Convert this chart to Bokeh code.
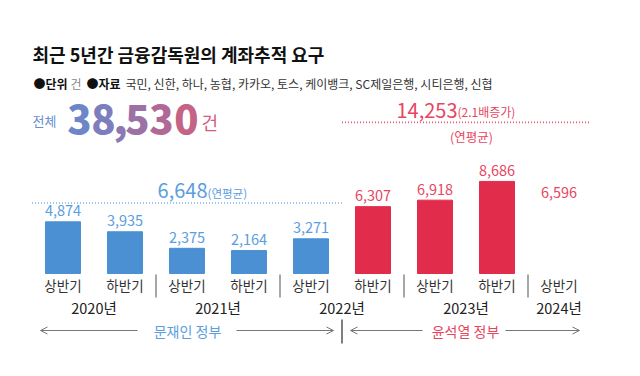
from bokeh.plotting import figure
from bokeh.models import ColumnDataSource, Arrow, OpenHead, Range1d
from bokeh.core.properties import value
from bokeh.embed import file_html
from bokeh.resources import INLINE

# ---------------- data ----------------
halves = ["상반기", "하반기", "상반기", "하반기", "상반기", "하반기", "상반기", "하반기", "상반기"]
half_years = ["2020년", "2020년", "2021년", "2021년", "2022년", "2022년", "2023년", "2023년", "2024년"]
values = [4874, 3935, 2375, 2164, 3271, 6307, 6918, 8686, 6596]
govs = ["문재인 정부"] * 5 + ["윤석열 정부"] * 4
gov_names = ["문재인 정부", "윤석열 정부"]
gov_avg = [6648, 14253]
gov_avg_note = ["(연평균)", "(2.1배증가)"]
total = "38,530"
title = "최근 5년간 금융감독원의 계좌추적 요구"
source_list = "국민, 신한, 하나, 농협, 카카오, 토스, 케이뱅크, SC제일은행, 시티은행, 신협"

# ---------------- geometry ----------------
W, H = 640, 376
PX_PER_CAT = 62.0
CAT0_PX = 62.5
BASE_PX = 273.0
PX_PER_UNIT = 0.0106
x0 = -CAT0_PX / PX_PER_CAT
x1 = x0 + W / PX_PER_CAT
y1 = BASE_PX / PX_PER_UNIT
y0 = y1 - H / PX_PER_UNIT


def X(px):
    return x0 + px / PX_PER_CAT


def Y(py):
    return y1 - py / PX_PER_UNIT


FONT = "Noto Sans CJK KR"
BLUE_BAR, BLUE_TXT, BLUE_DOT = "#4a90d2", "#5a9de0", "#7fb2e6"
RED_BAR, RED_TXT, RED_DOT = "#e12c4b", "#e8455f", "#ea5a72"
gov_bar = {gov_names[0]: BLUE_BAR, gov_names[1]: RED_BAR}
gov_txt = {gov_names[0]: BLUE_TXT, gov_names[1]: RED_TXT}

p = figure(width=W, height=H, output_backend="svg", toolbar_location=None,
           x_range=Range1d(x0, x1), y_range=Range1d(y0, y1),
           min_border=0, outline_line_color=None)
p.axis.visible = False
p.grid.visible = False
p.background_fill_color = "white"
p.border_fill_color = "white"

idx = list(range(len(values)))
n_bars = len(values) - 1  # the last half-year shows only its label in the picture
bar_src = ColumnDataSource(dict(x=idx[:n_bars], top=values[:n_bars],
                                color=[gov_bar[g] for g in govs[:n_bars]]))
p.vbar(x="x", top="top", width=0.565, bottom=0, color="color", source=bar_src)

lab_src = ColumnDataSource(dict(x=idx, y=values, t=[f"{v:,}" for v in values],
                                color=[gov_txt[g] for g in govs]))
p.text(x="x", y="y", text="t", text_color="color", source=lab_src,
       text_align="center", text_baseline="middle", y_offset=-11,
       text_font=value(FONT), text_font_size="14.5px")

# half-year labels
p.text(x=idx, y=[0] * len(idx), text=halves, text_align="center", text_baseline="middle",
       y_offset=11, text_font=value(FONT), text_font_size="13.5px", text_color="#333333")

# year labels centred over their half-years
years, year_x = [], []
for yname in dict.fromkeys(half_years):
    ids = [i for i, y in enumerate(half_years) if y == yname]
    years.append(yname)
    year_x.append(sum(ids) / len(ids))
p.text(x=year_x, y=[0] * len(years), text=years, text_align="center", text_baseline="middle",
       y_offset=34, text_font=value(FONT), text_font_size="14.5px", text_color="#222222")

# separators between years
sep_x = [i + 0.5 for i in range(len(half_years) - 1) if half_years[i] != half_years[i + 1]]
p.segment(x0=sep_x, y0=[Y(274)] * len(sep_x), x1=sep_x, y1=[Y(297)] * len(sep_x),
          line_color="#8a8a8a", line_width=1.5)

# government averages, dotted lines
for gi, g in enumerate(gov_names):
    ids = [i for i, gg in enumerate(govs) if gg == g]
    lo, hi = ids[0] - 0.5, ids[-1] + 0.5
    col = BLUE_DOT if gi == 0 else RED_DOT
    p.line(x=[lo, hi], y=[gov_avg[gi]] * 2, line_color=col, line_width=1.6, line_dash="1 2")

# blue average label
p.text(x=[X(207)], y=[Y(190)], text=[f"{gov_avg[0]:,}"], text_align="right",
       text_baseline="middle", text_font=value(FONT), text_font_size="20px",
       text_color=BLUE_TXT)
p.text(x=[X(207)], y=[Y(192)], text=[gov_avg_note[0]], text_align="left",
       text_baseline="middle", text_font=value(FONT), text_font_size="11.5px",
       text_color=BLUE_TXT)
# red average label
p.text(x=[X(457)], y=[Y(110)], text=[f"{gov_avg[1]:,}"], text_align="right",
       text_baseline="middle", text_font=value(FONT), text_font_size="20px",
       text_color=RED_TXT)
p.text(x=[X(457)], y=[Y(111)], text=[gov_avg_note[1]], text_align="left",
       text_baseline="middle", text_font=value(FONT), text_font_size="12px",
       text_color=RED_TXT)
p.text(x=[X(471)], y=[Y(136)], text=[gov_avg_note[0]], text_align="center",
       text_baseline="middle", text_font=value(FONT), text_font_size="12.5px",
       text_color=RED_TXT)

# government arrows
gy = Y(330)
arrow_spans = [((40, 137), (236, 333), 187), ((350, 422), (505, 579), 465)]
for gi, ((a0, a1), (b0, b1), cx) in enumerate(arrow_spans):
    p.add_layout(Arrow(end=OpenHead(size=7, line_color="#777777", line_width=1),
                       x_start=X(a1), y_start=gy, x_end=X(a0), y_end=gy,
                       line_color="#777777", line_width=1))
    p.add_layout(Arrow(end=OpenHead(size=7, line_color="#777777", line_width=1),
                       x_start=X(b0), y_start=gy, x_end=X(b1), y_end=gy,
                       line_color="#777777", line_width=1))
    p.text(x=[X(cx)], y=[gy], text=[gov_names[gi]], text_align="center", text_baseline="middle",
           text_font=value(FONT), text_font_size="14px",
           text_color=BLUE_TXT if gi == 0 else RED_TXT)
p.segment(x0=[4.5], y0=[Y(319)], x1=[4.5], y1=[Y(343)], line_color="#555555", line_width=1.5)

# title & subtitle
p.text(x=[X(32)], y=[Y(53)], text=[title], text_align="left", text_baseline="middle",
       text_font=value(FONT), text_font_size="18px", text_font_style="bold", text_color="#111111")
p.text(x=[X(33), X(86)], y=[Y(83)] * 2, text=["●단위", "●자료"], text_align="left",
       text_baseline="middle", text_font=value(FONT), text_font_size="12px",
       text_font_style="bold", text_color="#111111")
p.text(x=[X(70)], y=[Y(83)], text=["건"], text_align="left", text_baseline="middle",
       text_font=value(FONT), text_font_size="12px", text_color="#888888")
p.text(x=[X(125)], y=[Y(83)], text=[source_list], text_align="left", text_baseline="middle",
       text_font=value(FONT), text_font_size="12px", text_color="#333333")

# total with gradient colours
p.text(x=[X(32)], y=[Y(120)], text=["전체"], text_align="left", text_baseline="middle",
       text_font=value(FONT), text_font_size="13px", text_color="#6a8fd0")
chars = list(total)
char_px = [79, 103, 120, 137, 161, 186]
grad = ["#6c86c8", "#7d7ebe", "#8c78b2", "#9c71a6", "#b06996", "#c46386"]
p.text(x=[X(c) for c in char_px], y=[Y(118)] * len(chars), text=chars, text_align="center",
       text_baseline="middle", text_font=value("Noto Sans CJK KR Black, Noto Sans CJK KR"),
       text_font_size="40px", text_font_style="bold", text_color=grad)
p.text(x=[X(201)], y=[Y(121)], text=["건"], text_align="left", text_baseline="middle",
       text_font=value(FONT), text_font_size="18px", text_color="#d2607c")

open("out.html", "w").write(file_html(p, INLINE))
